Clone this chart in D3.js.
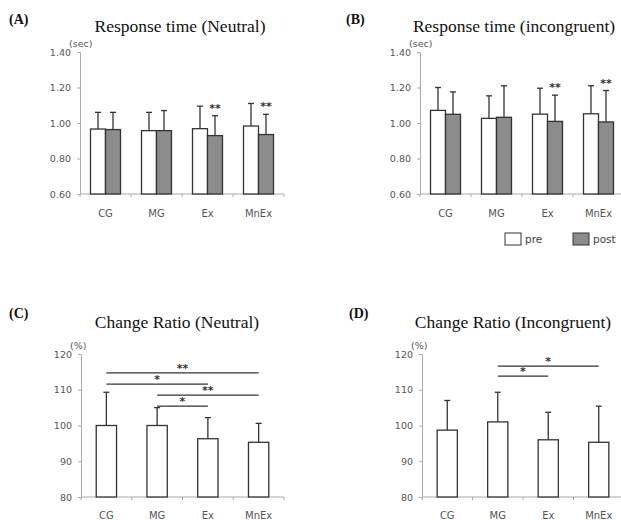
<!DOCTYPE html>
<html>
<head>
<meta charset="utf-8">
<script src="https://cdn.jsdelivr.net/npm/d3@7"></script>
<style>
  body { margin: 0; background: #fff; }
  svg { display: block; }
  .tick text { font-family: "DejaVu Sans", Arial, sans-serif; fill: #555; }
</style>
</head>
<body>
<svg id="chart" width="621" height="520"></svg>
<script>
// groups on the x axis
var groups = ['CG', 'MG', 'Ex', 'MnEx'];
var phases = ['pre', 'post'];

// (A) response time, neutral (sec)
var rtNeutralPre = [0.966, 0.957, 0.968, 0.983];
var rtNeutralPost = [0.963, 0.957, 0.929, 0.935];
var rtNeutralPreTop = [1.06, 1.06, 1.095, 1.11];
var rtNeutralPostTop = [1.06, 1.07, 1.041, 1.049];

// (B) response time, incongruent (sec)
var rtIncongPre = [1.071, 1.026, 1.05, 1.052];
var rtIncongPost = [1.049, 1.032, 1.009, 1.006];
var rtIncongPreTop = [1.20, 1.153, 1.196, 1.21];
var rtIncongPostTop = [1.175, 1.21, 1.157, 1.183];

// (C) change ratio, neutral (%)
var crNeutral = [100, 100, 96.3, 95.3];
var crNeutralTop = [109.3, 105.0, 102.2, 100.6];

// (D) change ratio, incongruent (%)
var crIncong = [98.7, 101.0, 96.0, 95.3];
var crIncongTop = [107.0, 109.3, 103.7, 105.4];

// significance brackets: [from, to, level, label]
var sigNeutral = [['CG', 'MnEx', 114.7, '**'], ['CG', 'Ex', 111.6, '*'], ['MG', 'MnEx', 108.5, '**'], ['MG', 'Ex', 105.4, '*']];
var sigIncong = [['MG', 'MnEx', 116.6, '*'], ['MG', 'Ex', 113.8, '*']];

// pre-post stars
var rtStars = ['', '', '**', '**'];

var rtTicks = [0.6, 0.8, 1.0, 1.2, 1.4];
var crTicks = [80, 90, 100, 110, 120];

var svg = d3.select('#chart');

function panel(opt) {
    var g = svg.append('g');
    var x = d3.scaleBand().domain(groups).range([opt.x0, opt.x1]);
    var y = d3.scaleLinear().domain(opt.yDomain).range([opt.yBottom, opt.yTop]);

    // panel letter and title
    g.append('text')
        .attr('x', opt.letterX).attr('y', opt.letterY)
        .style('font-family', '"Liberation Serif", "Times New Roman", serif')
        .style('font-weight', 'bold').style('font-size', '14px')
        .attr('fill', '#111')
        .text(opt.letter);
    g.append('text')
        .attr('x', opt.titleX).attr('y', opt.titleY)
        .attr('text-anchor', 'middle')
        .style('font-family', '"Liberation Serif", "Times New Roman", serif')
        .style('font-size', '17.5px')
        .attr('fill', '#111')
        .text(opt.title);

    // y axis
    var yAxis = g.append('g')
        .attr('transform', 'translate(' + opt.x0 + ',0)')
        .call(d3.axisLeft(y).tickValues(opt.ticks).tickFormat(opt.fmt).tickSize(3).tickPadding(6));
    yAxis.selectAll('text').style('font-size', '9.5px');
    yAxis.select('.domain').attr('stroke', '#aaa');
    yAxis.selectAll('.tick line').attr('stroke', '#aaa');

    // unit
    g.append('text')
        .attr('x', opt.x0 - 11).attr('y', opt.yTop - 5)
        .style('font-family', '"DejaVu Sans", Arial, sans-serif')
        .style('font-size', '9.5px').attr('fill', '#555')
        .text(opt.unit);

    // x axis
    var xAxis = g.append('g')
        .attr('transform', 'translate(0,' + opt.yBottom + ')');
    xAxis.append('line')
        .attr('x1', opt.x0).attr('x2', opt.x1)
        .attr('stroke', '#aaa');
    xAxis.selectAll('line.tk')
        .data(groups.concat(['end']))
        .enter().append('line')
        .attr('class', 'tk')
        .attr('x1', function (d) { return d === 'end' ? opt.x1 : x(d); })
        .attr('x2', function (d) { return d === 'end' ? opt.x1 : x(d); })
        .attr('y1', 0).attr('y2', 3)
        .attr('stroke', '#aaa');
    xAxis.selectAll('text')
        .data(groups)
        .enter().append('text')
        .attr('x', function (d) { return x(d) + x.bandwidth() / 2; })
        .attr('y', opt.labelDy)
        .attr('text-anchor', 'middle')
        .style('font-family', '"DejaVu Sans", Arial, sans-serif')
        .style('font-size', '10px').attr('fill', '#555')
        .text(function (d) { return d; });

    return { g: g, x: x, y: y };
}

function errorBar(g, cx, yBase, yTop) {
    g.append('line')
        .attr('x1', cx).attr('x2', cx)
        .attr('y1', yBase).attr('y2', yTop)
        .attr('stroke', '#333').attr('stroke-width', 1.3);
    g.append('line')
        .attr('x1', cx - 3).attr('x2', cx + 3)
        .attr('y1', yTop).attr('y2', yTop)
        .attr('stroke', '#333').attr('stroke-width', 1.3);
}

function groupedBars(p, pre, post, preTop, postTop) {
    var x1 = d3.scaleBand().domain(phases).range([0, p.x.bandwidth()]).paddingOuter(0.7);
    var rows = groups.map(function (d, i) {
        return [
            { group: d, phase: 'pre', v: pre[i], top: preTop[i] },
            { group: d, phase: 'post', v: post[i], top: postTop[i] }
        ];
    });
    var flat = [].concat.apply([], rows);
    flat.forEach(function (d) {
        var cx = p.x(d.group) + x1(d.phase) + x1.bandwidth() / 2;
        errorBar(p.g, cx, p.y(d.v), p.y(d.top));
    });
    p.g.selectAll('rect.bar')
        .data(flat)
        .enter().append('rect')
        .attr('class', 'bar')
        .attr('x', function (d) { return p.x(d.group) + x1(d.phase); })
        .attr('y', function (d) { return p.y(d.v); })
        .attr('width', x1.bandwidth())
        .attr('height', function (d) { return p.y.range()[0] - p.y(d.v); })
        .attr('fill', function (d) { return d.phase === 'pre' ? '#fff' : '#8c8c8c'; })
        .attr('stroke', '#333').attr('stroke-width', 1.3);
    // stars above post bars
    p.g.selectAll('text.star')
        .data(groups)
        .enter().append('text')
        .attr('class', 'star')
        .attr('x', function (d) { return p.x(d) + x1('post') + x1.bandwidth() / 2; })
        .attr('y', function (d, i) { return p.y(postTop[i]) - 4; })
        .attr('text-anchor', 'middle')
        .style('font-family', '"DejaVu Sans", Arial, sans-serif')
        .style('font-size', '11px').style('font-weight', 'bold').attr('fill', '#333')
        .text(function (d, i) { return rtStars[i]; });
}

function singleBars(p, vals, tops, sig) {
    var w = p.x.bandwidth() * 0.4;
    groups.forEach(function (d, i) {
        errorBar(p.g, p.x(d) + p.x.bandwidth() / 2, p.y(vals[i]), p.y(tops[i]));
    });
    p.g.selectAll('rect.bar')
        .data(vals)
        .enter().append('rect')
        .attr('class', 'bar')
        .attr('x', function (d, i) { return p.x(groups[i]) + (p.x.bandwidth() - w) / 2; })
        .attr('y', function (d) { return p.y(d); })
        .attr('width', w)
        .attr('height', function (d) { return p.y.range()[0] - p.y(d); })
        .attr('fill', '#fff')
        .attr('stroke', '#333').attr('stroke-width', 1.3);
    sig.forEach(function (s) {
        var xa = p.x(s[0]) + p.x.bandwidth() / 2;
        var xb = p.x(s[1]) + p.x.bandwidth() / 2;
        p.g.append('line')
            .attr('x1', xa).attr('x2', xb)
            .attr('y1', p.y(s[2])).attr('y2', p.y(s[2]))
            .attr('stroke', '#333').attr('stroke-width', 1.2);
        p.g.append('text')
            .attr('x', (xa + xb) / 2).attr('y', p.y(s[2]) - 1)
            .attr('text-anchor', 'middle')
            .style('font-family', '"DejaVu Sans", Arial, sans-serif')
            .style('font-size', '11px').style('font-weight', 'bold').attr('fill', '#333')
            .text(s[3]);
    });
}

var fmt2 = d3.format('.2f');

var pA = panel({ x0: 80, x1: 284, yBottom: 194, yTop: 52, yDomain: [0.6, 1.4], ticks: rtTicks, fmt: fmt2,
    unit: '(sec)', letter: '(A)', letterX: 9, letterY: 24, title: 'Response time (Neutral)', titleX: 180, titleY: 32, labelDy: 23 });
groupedBars(pA, rtNeutralPre, rtNeutralPost, rtNeutralPreTop, rtNeutralPostTop);

var pB = panel({ x0: 420, x1: 624, yBottom: 194, yTop: 52, yDomain: [0.6, 1.4], ticks: rtTicks, fmt: fmt2,
    unit: '(sec)', letter: '(B)', letterX: 346, letterY: 24, title: 'Response time (incongruent)', titleX: 514, titleY: 32, labelDy: 23 });
groupedBars(pB, rtIncongPre, rtIncongPost, rtIncongPreTop, rtIncongPostTop);

var pC = panel({ x0: 81, x1: 284, yBottom: 497, yTop: 354, yDomain: [80, 120], ticks: crTicks, fmt: d3.format('d'),
    unit: '(%)', letter: '(C)', letterX: 9, letterY: 318, title: 'Change Ratio (Neutral)', titleX: 177, titleY: 328, labelDy: 22 });
singleBars(pC, crNeutral, crNeutralTop, sigNeutral);

var pD = panel({ x0: 422, x1: 624, yBottom: 497, yTop: 354, yDomain: [80, 120], ticks: crTicks, fmt: d3.format('d'),
    unit: '(%)', letter: '(D)', letterX: 349, letterY: 318, title: 'Change Ratio (Incongruent)', titleX: 513, titleY: 328, labelDy: 22 });
singleBars(pD, crIncong, crIncongTop, sigIncong);

// legend
var legend = svg.append('g').attr('transform', 'translate(505,233)');
phases.forEach(function (ph, i) {
    var lg = legend.append('g').attr('transform', 'translate(' + (i * 68) + ',0)');
    lg.append('rect')
        .attr('width', 16).attr('height', 12)
        .attr('fill', ph === 'pre' ? '#fff' : '#8c8c8c')
        .attr('stroke', '#333').attr('stroke-width', 1);
    lg.append('text')
        .attr('x', 20).attr('y', 10)
        .style('font-family', '"DejaVu Sans", Arial, sans-serif')
        .style('font-size', '10.5px').attr('fill', '#444')
        .text(ph);
});
</script>
</body>
</html>
